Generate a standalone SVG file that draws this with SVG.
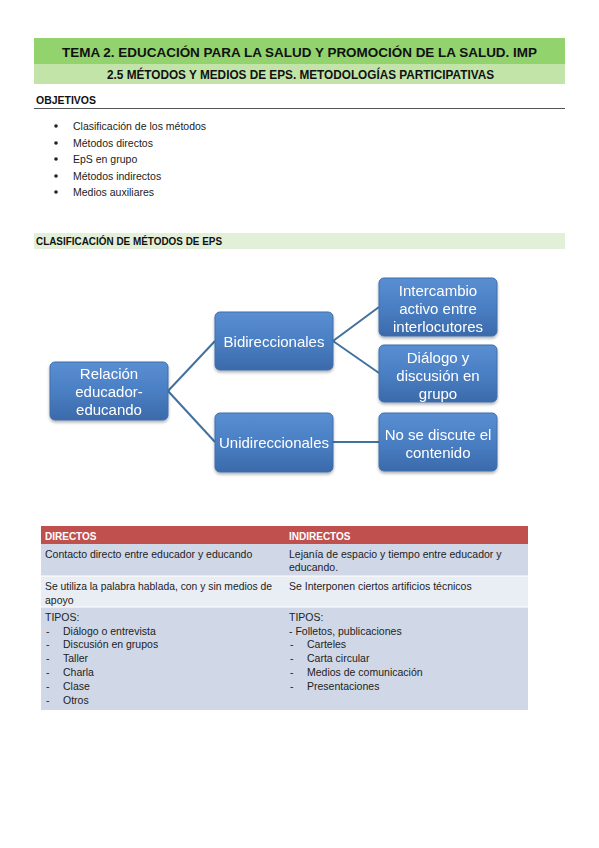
<svg xmlns="http://www.w3.org/2000/svg" width="599" height="848" viewBox="0 0 599 848">
<style>
text{font-family:"Liberation Sans",Arial,sans-serif;}
.t{font-size:10.5px;fill:#222;}
.b{font-weight:bold;}
.h{font-size:10px;fill:#fff;font-weight:bold;}
.box{fill:url(#g);stroke:#3d6eaa;stroke-width:1;}
.bt{font-size:15px;fill:#fff;text-anchor:middle;}
.c{stroke:#41719c;stroke-width:2;fill:none;}
</style>
<defs>
<linearGradient id="g" x1="0" y1="0" x2="0" y2="1">
<stop offset="0" stop-color="#5a8ed2"/>
<stop offset="0.5" stop-color="#4a7fc4"/>
<stop offset="1" stop-color="#3b6aaa"/>
</linearGradient>
<filter id="sh" x="-10%" y="-10%" width="130%" height="140%">
<feDropShadow dx="0" dy="2" stdDeviation="1.5" flood-color="#000" flood-opacity="0.3"/>
</filter>
</defs>
<rect width="599" height="848" fill="#fff"/>

<g id="header">
<rect x="34" y="38" width="531" height="26" fill="#92d36e"/>
<rect x="34" y="64" width="531" height="20" fill="#c2e4a9"/>
<text x="299.5" y="56.5" text-anchor="middle" class="b" font-size="13.5" fill="#111" textLength="475" lengthAdjust="spacingAndGlyphs">TEMA 2. EDUCACIÓN PARA LA SALUD Y PROMOCIÓN DE LA SALUD. IMP</text>
<text x="300.5" y="79" text-anchor="middle" class="b" font-size="12" fill="#111" textLength="387" lengthAdjust="spacingAndGlyphs">2.5 MÉTODOS Y MEDIOS DE EPS. METODOLOGÍAS PARTICIPATIVAS</text>
</g>

<g id="objetivos">
<text x="36" y="104" class="b" font-size="10" fill="#111" textLength="60" lengthAdjust="spacingAndGlyphs">OBJETIVOS</text>
<line x1="34" y1="108.5" x2="565" y2="108.5" stroke="#555" stroke-width="1"/>
<g class="t">
<circle cx="56" cy="126" r="1.8" fill="#222"/><text x="73" y="129.5">Clasificación de los métodos</text>
<circle cx="56" cy="143" r="1.8" fill="#222"/><text x="73" y="146.5">Métodos directos</text>
<circle cx="56" cy="159" r="1.8" fill="#222"/><text x="73" y="162.5">EpS en grupo</text>
<circle cx="56" cy="176" r="1.8" fill="#222"/><text x="73" y="179.5">Métodos indirectos</text>
<circle cx="56" cy="192" r="1.8" fill="#222"/><text x="73" y="195.5">Medios auxiliares</text>
</g>
</g>

<g id="clasif-title">
<rect x="34" y="233" width="531" height="16" fill="#e2efd9"/>
<text x="36" y="245" class="b" font-size="10" fill="#111" textLength="186" lengthAdjust="spacingAndGlyphs">CLASIFICACIÓN DE MÉTODOS DE EPS</text>
</g>

<g id="connectors">
<line class="c" x1="168" y1="391" x2="215" y2="341"/>
<line class="c" x1="168" y1="391" x2="215" y2="442"/>
<line class="c" x1="333" y1="341" x2="379" y2="307"/>
<line class="c" x1="333" y1="341" x2="379" y2="373"/>
<line class="c" x1="333" y1="442" x2="379" y2="442"/>
</g>

<g id="n-relacion" filter="url(#sh)">
<rect class="box" x="50" y="362" width="118" height="58" rx="5"/>
<text class="bt" x="109" y="378.5">Relación</text>
<text class="bt" x="109" y="396.5">educador-</text>
<text class="bt" x="109" y="414.5">educando</text>
</g>
<g id="n-bidi" filter="url(#sh)">
<rect class="box" x="215" y="312" width="118" height="58" rx="5"/>
<text class="bt" x="274" y="346.5">Bidireccionales</text>
</g>
<g id="n-uni" filter="url(#sh)">
<rect class="box" x="215" y="413" width="118" height="59" rx="5"/>
<text class="bt" x="274" y="447.5">Unidireccionales</text>
</g>
<g id="n-intercambio" filter="url(#sh)">
<rect class="box" x="379" y="278" width="118" height="58" rx="5"/>
<text class="bt" x="438" y="295.5">Intercambio</text>
<text class="bt" x="438" y="313.5">activo entre</text>
<text class="bt" x="438" y="331.5">interlocutores</text>
</g>
<g id="n-dialogo" filter="url(#sh)">
<rect class="box" x="379" y="345" width="118" height="57" rx="5"/>
<text class="bt" x="438" y="362.5">Diálogo y</text>
<text class="bt" x="438" y="380.5">discusión en</text>
<text class="bt" x="438" y="398.5">grupo</text>
</g>
<g id="n-nodiscute" filter="url(#sh)">
<rect class="box" x="379" y="413" width="118" height="58" rx="5"/>
<text class="bt" x="438" y="440">No se discute el</text>
<text class="bt" x="438" y="457.5">contenido</text>
</g>

<g id="tabla">
<rect x="41" y="526" width="487" height="18" fill="#c0504d"/>
<rect x="41" y="544" width="487" height="32" fill="#d0d8e8"/>
<rect x="41" y="576" width="487" height="31" fill="#e9edf4"/>
<rect x="41" y="607" width="487" height="103" fill="#d0d8e8"/>
<line x1="41" y1="576" x2="528" y2="576" stroke="#fff" stroke-width="1"/>
<line x1="41" y1="607" x2="528" y2="607" stroke="#fff" stroke-width="1"/>
<text class="h" x="45" y="539.5">DIRECTOS</text>
<text class="h" x="289" y="539.5">INDIRECTOS</text>
<g class="t">
<text x="45" y="557.5">Contacto directo entre educador y educando</text>
<text x="289" y="557.5">Lejanía de espacio y tiempo entre educador y</text>
<text x="289" y="571">educando.</text>
<text x="45" y="589.5" textLength="227" lengthAdjust="spacingAndGlyphs">Se utiliza la palabra hablada, con y sin medios de</text>
<text x="45" y="603.5">apoyo</text>
<text x="289" y="589.5">Se Interponen ciertos artificios técnicos</text>
<text x="45" y="621">TIPOS:</text>
<text x="46" y="634.5">-</text><text x="63" y="634.5">Diálogo o entrevista</text>
<text x="46" y="648">-</text><text x="63" y="648">Discusión en grupos</text>
<text x="46" y="661.5">-</text><text x="63" y="661.5">Taller</text>
<text x="46" y="675.5">-</text><text x="63" y="675.5">Charla</text>
<text x="46" y="689.5">-</text><text x="63" y="689.5">Clase</text>
<text x="46" y="703.5">-</text><text x="63" y="703.5">Otros</text>
<text x="289" y="621">TIPOS:</text>
<text x="289" y="634.5">- Folletos, publicaciones</text>
<text x="290" y="648">-</text><text x="307" y="648">Carteles</text>
<text x="290" y="661.5">-</text><text x="307" y="661.5">Carta circular</text>
<text x="290" y="675.5">-</text><text x="307" y="675.5">Medios de comunicación</text>
<text x="290" y="689.5">-</text><text x="307" y="689.5">Presentaciones</text>
</g>
</g>
</svg>
